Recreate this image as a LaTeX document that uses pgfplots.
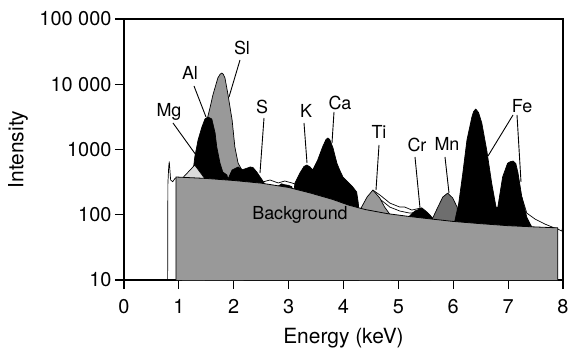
\documentclass[border=0pt]{standalone}
\usepackage{fontspec}
\setmainfont{TeX Gyre Heros}
\usepackage{pgfplots}
\pgfplotsset{compat=1.18}
\definecolor{bggray}{HTML}{999999}
\definecolor{mngray}{HTML}{6E6E6E}
\definecolor{mggray}{HTML}{DCDCDC}
\begin{document}
\begin{tikzpicture}
\path[use as bounding box] (-124bp,-69bp) rectangle (444bp,280bp);
\begin{axis}[
  scale only axis, width=439bp, height=261bp,
  xmin=0, xmax=8, ymin=10, ymax=100000, ymode=log,
  axis line style={line width=1.1bp},
  xtick={0,1,2,3,4,5,6,7,8}, xticklabels={0,1,2,3,4,5,6,7,8},
  ytick={10,100,1000,10000,100000}, yticklabels={10,100,1000,10 000,100 000},
  yminorticks=false, xminorticks=false,
  tick pos=left, tick align=outside,
  major tick length=9bp,
  tick style={line width=1.1bp, black},
  ticklabel style={font=\fontsize{20}{20}\selectfont},
  xticklabel style={yshift=-7bp},
  xlabel={Energy (keV)}, ylabel={Intensity},
  label style={font=\fontsize{21}{21}\selectfont},
  xlabel style={at={(axis description cs:0.5,-0.2222)}, anchor=center},
  ylabel style={at={(axis description cs:-0.2415,0.5)}, anchor=center},
  every axis plot/.append style={line join=round},
]
% total spectrum outline (visible parts)
\addplot[black, line width=0.7bp] coordinates {(0.795,10) (0.80,300) (0.815,550) (0.825,650) (0.835,500) (0.85,341) (0.887,321) (0.93,360) (0.96,370)};
\addplot[black, line width=0.7bp] coordinates {(2.44,393) (2.53,318) (2.66,341) (2.81,307) (2.93,329) (3.06,307) (3.17,286)};
\addplot[black, line width=0.7bp] coordinates {(4.535,239) (4.663,201) (4.845,151) (5.027,131) (5.118,131) (5.246,118) (5.337,123) (5.428,127)};
\addplot[black, line width=0.7bp] coordinates {(4.535,239) (4.663,174) (4.845,131) (5.027,114) (5.209,106) (5.392,110)};
\addplot[black, line width=0.7bp] coordinates {(7.25,187) (7.34,106) (7.49,86) (7.67,72) (7.80,65) (7.905,60.5) (7.98,56) (8.0,70)};
% Si
\addplot[fill=bggray, draw=black, line width=0.7bp] coordinates {(1.45,10) (1.45,300) (1.52,3000) (1.57,4460) (1.62,6840) (1.71,12470) (1.75,14200) (1.785,14860) (1.81,14200) (1.84,12470) (1.89,7350) (1.97,2830) (2.02,1100) (2.08,615) (2.15,485) (2.18,380) (2.18,10)};
% Al
\addplot[fill=black, draw=black, line width=0.7bp] coordinates {(1.24,10) (1.24,340) (1.29,767) (1.35,1400) (1.42,2210) (1.475,2930) (1.53,3150) (1.60,2930) (1.66,1790) (1.69,1100) (1.75,615) (1.80,452) (1.876,406) (1.90,330) (1.90,10)};
% Mg
\addplot[fill=mggray, draw=black, line width=0.7bp] coordinates {(1.06,10) (1.06,360) (1.29,578) (1.47,360) (1.47,10)};
% S region bumps
\addplot[fill=black, draw=black, line width=0.7bp] coordinates {(1.88,10) (1.88,330) (1.97,485) (2.08,540) (2.15,490) (2.20,503) (2.25,520) (2.30,540) (2.35,530) (2.42,452) (2.48,380) (2.53,330) (2.57,290) (2.57,10)};
\addplot[fill=black, draw=black, line width=0.7bp] coordinates {(2.80,10) (2.80,270) (2.87,298) (2.93,288) (3.00,282) (3.06,268) (3.08,10)};
% K - Ca
\addplot[fill=black, draw=black, line width=0.7bp] coordinates {(3.10,10) (3.10,240) (3.115,307) (3.206,437) (3.28,550) (3.333,578) (3.39,540) (3.44,485) (3.53,690) (3.62,1100) (3.68,1420) (3.716,1500) (3.75,1420) (3.81,1050) (3.88,615) (3.93,485) (3.99,379) (4.08,318) (4.17,266) (4.24,223) (4.27,150) (4.28,115) (4.28,10)};
% Ti
\addplot[fill=bggray, draw=black, line width=0.7bp] coordinates {(4.28,10) (4.28,110) (4.43,187) (4.535,239) (4.66,181) (4.75,131) (4.87,95) (4.87,10)};
% Cr
\addplot[fill=black, draw=black, line width=0.7bp] coordinates {(5.17,10) (5.17,90) (5.30,114) (5.43,127) (5.52,110) (5.68,80) (5.68,10)};
% Mn
\addplot[fill=mngray, draw=black, line width=0.7bp] coordinates {(5.60,10) (5.60,80) (5.72,131) (5.81,187) (5.90,215) (5.99,181) (6.07,131) (6.10,75) (6.10,10)};
% Fe
\addplot[fill=black, draw=black, line width=0.7bp] coordinates {(6.02,10) (6.02,74) (6.10,150) (6.175,437) (6.25,1400) (6.34,3150) (6.37,3800) (6.41,4170) (6.46,3700) (6.52,2550) (6.61,980) (6.70,307) (6.78,131) (6.81,127) (6.90,379) (6.99,615) (7.04,650) (7.09,665) (7.14,610) (7.18,437) (7.25,187) (7.34,92) (7.43,65) (7.45,60) (7.45,10)};
% Background
\addplot[fill=bggray, draw=black, line width=0.8bp] coordinates {(0.947,10) (0.947,379) (1.5,360) (2.0,335) (2.5,305) (3.0,262) (3.4,215) (3.8,172) (4.1,140) (4.4,120) (4.8,104) (5.2,94) (5.6,86) (6.0,79) (6.5,73) (7.0,68) (7.5,65) (7.905,63) (7.905,10)};
\end{axis}
\begin{scope}[every node/.style={font=\fontsize{18}{18}\selectfont, inner sep=0pt}, line width=0.9bp]
\node at (45bp,168bp) {Mg}; \draw (49bp,157bp) -- (72bp,125bp);
\node at (66bp,207bp) {Al}; \draw (70bp,194bp) -- (82bp,163bp);
\node at (118bp,232bp) {Sl}; \draw (116bp,220bp) -- (105bp,183bp);
\node at (138bp,173bp) {S}; \draw (140bp,162bp) -- (136bp,107bp);
\node at (182bp,169bp) {K}; \draw (180bp,157bp) -- (183bp,117bp);
\node at (216bp,177bp) {Ca}; \draw (210bp,168bp) -- (208bp,137bp);
\node at (255bp,148bp) {Ti}; \draw (255bp,135bp) -- (252bp,90bp);
\node at (293bp,135bp) {Cr}; \draw (291bp,123bp) -- (296bp,72bp);
\node at (323bp,136bp) {Mn}; \draw (321bp,123bp) -- (325bp,87bp);
\node at (398bp,174bp) {Fe}; \draw (389bp,165bp) -- (364bp,124bp); \draw (393bp,165bp) -- (397bp,98bp);
\node at (176bp,65bp) {Background};
\end{scope}
\end{tikzpicture}
\end{document}
